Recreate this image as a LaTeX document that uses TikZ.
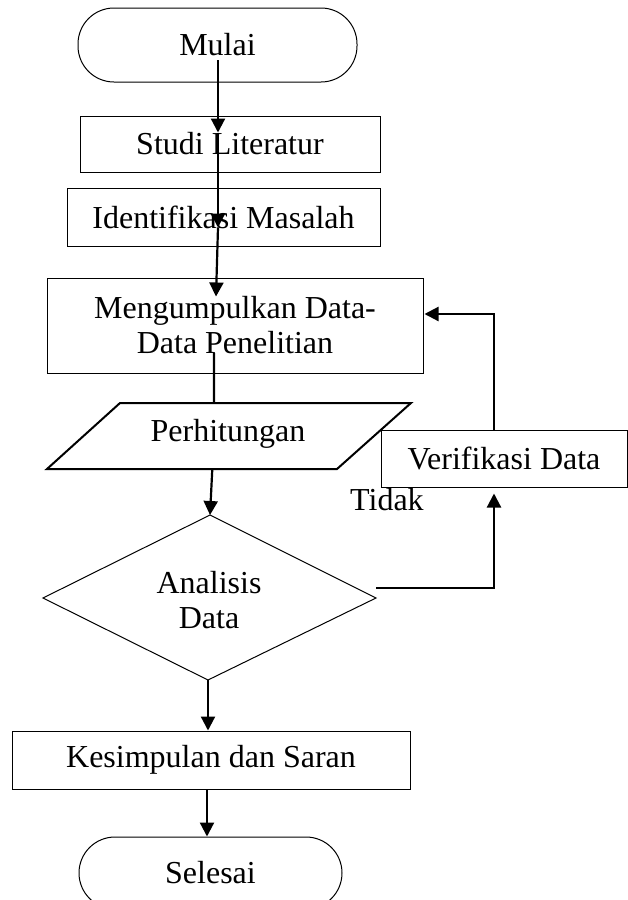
\documentclass[tikz,border=0pt]{standalone}
\usepackage{fontspec}
\setmainfont{Liberation Serif}
\usetikzlibrary{arrows.meta,calc}
\begin{document}
\begin{tikzpicture}[x=1pt,y=-1pt,
  every node/.style={font=\fontsize{32}{35}\selectfont, inner sep=0pt},
  procbox/.style={draw, line width=1pt, align=center},
  termbox/.style={draw, line width=1pt, rounded corners=36pt},
  arr/.style={line width=2.2pt, -{Triangle[length=14pt,width=14pt]}},
  link/.style={line width=2.2pt}]
\useasboundingbox (0,0) rectangle (628,900);
\clip (0,0) rectangle (628,900);

% process boxes and terminals
\node[termbox, minimum width=279pt, minimum height=74pt] (mulai) at (217.5,45) {Mulai};
\node[procbox, minimum width=300pt, minimum height=56pt] (studi) at (230,144) {Studi Literatur};
\node[procbox, minimum width=313pt, minimum height=58pt] (ident) at (223.5,217) {Identifikasi Masalah};
\node[procbox, minimum width=376pt, minimum height=95pt] (kumpul) at (235,325.5) {Mengumpulkan Data-\\Data Penelitian};
\node[procbox, minimum width=246pt, minimum height=57pt] (verif) at (504,458.5) {Verifikasi Data};
\node[procbox, minimum width=398pt, minimum height=58pt] (simpul) at (211,760) {Kesimpulan dan Saran};
\node[termbox, minimum width=263pt, minimum height=72pt] (selesai) at (210.5,873) {Selesai};

% input/output parallelogram
\coordinate (hSW) at (47,469);
\coordinate (hNW) at (120,403);
\coordinate (hNE) at (411,403);
\coordinate (hSE) at (337,469);
\draw[line width=2pt] (hSW) -- (hNW) -- (hNE) -- (hSE) -- cycle;
\node (hitung) at (228,434) {Perhitungan};

% decision
\coordinate (dN) at (210,515);
\coordinate (dW) at (43,598);
\coordinate (dE) at (376,598);
\coordinate (dS) at (208,680);
\draw[line width=1pt] (dN) -- (dE) -- (dS) -- (dW) -- cycle;
\node[align=center] (analisis) at (209,600) {Analisis\\Data};

\node[anchor=base west] (tidak) at (350,510) {Tidak};

% connectors
\coordinate (a1) at ($(mulai.center)+(0.5,15)$);
\coordinate (a2) at ($(studi.north)+(-12,17)$);
\coordinate (a3) at ($(ident.north)+(-5.5,40)$);
\coordinate (a4) at ($(kumpul.north)+(-19,19)$);
\draw[arr] (a1) -- (a2);
\draw[arr] (a2) -- (a3);
\draw[arr] (a3) -- (a4);
\draw[link] ($(kumpul.center)+(-21,27.5)$) -- ($(hNW)!0.323!(hNE)$);
\draw[arr] ($(hSW)!0.57!(hSE)$) -- (dN);
\draw[arr] (dS) -- (simpul.north -| dS);
\draw[arr] ($(simpul.south)+(-4,0)$) -- ($(selesai.north)+(-3.5,0)$);
\draw[arr] ($(dE)+(0,-10)$) -| ($(verif.south)+(-10,6)$);
\draw[arr] ($(verif.north)+(-10,0)$) |- ($(kumpul.east)+(1,-11.5)$);
\end{tikzpicture}
\end{document}
